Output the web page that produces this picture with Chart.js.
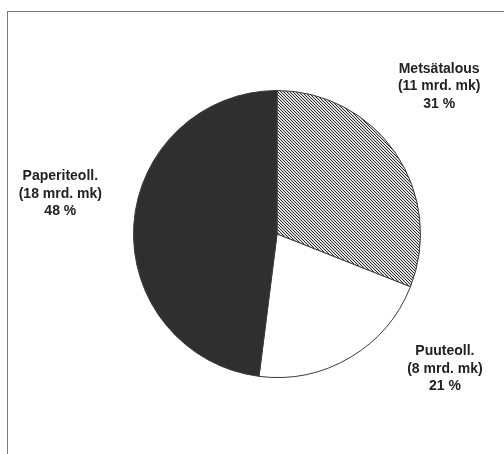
<!DOCTYPE html>
<html>
<head>
<meta charset="utf-8">
<title>Metsäsektori</title>
<script src="https://cdn.jsdelivr.net/npm/chart.js@4/dist/chart.umd.min.js"></script>
<style>
	html, body { margin: 0; padding: 0; background: #fff; }
	#wrap { width: 504px; height: 454px; position: relative; }
</style>
</head>
<body>
<div id="wrap"><canvas id="pie_sektori" width="504" height="454"></canvas></div>
<script>

var categories = ["Metsätalous", "Puuteoll.", "Paperiteoll."];
var amounts = ["11 mrd. mk", "8 mrd. mk", "18 mrd. mk"];
var percents = [31, 21, 48];

// fine diagonal hatch for the first slice
function hatch(){
	var c = document.createElement("canvas");
	c.width = 3;
	c.height = 3;
	var ctx = c.getContext("2d");
	ctx.fillStyle = "#e2e2e2";
	ctx.fillRect(0, 0, 3, 3);
	ctx.fillStyle = "#2a2a2a";
	for (var i = 0; i < 3; i++) {
		ctx.fillRect(i, i, 1, 1);
	}
	return ctx.createPattern(c, "repeat");
}

// frame round the whole drawing, open on the right and bottom
var frame = {
	id: "frame",
	beforeDraw: function(chart){
		var ctx = chart.ctx;
		ctx.save();
		ctx.strokeStyle = "#7a7a7a";
		ctx.lineWidth = 1;
		ctx.strokeRect(7.5, 11.5, chart.width + 20, chart.height + 20);
		ctx.restore();
	}
};

// three-line labels beside each slice
var sliceLabels = {
	id: "sliceLabels",
	afterDraw: function(chart, args, opts){
		var ctx = chart.ctx;
		var arcs = chart.getDatasetMeta(0).data;
		ctx.save();
		ctx.fillStyle = "#222";
		ctx.font = "bold 14px 'Liberation Sans', Arial, sans-serif";
		ctx.textAlign = "center";
		ctx.textBaseline = "middle";
		for (var t = 0; t < arcs.length; t++) {
			var a = arcs[t];
			var x = a.x + opts.offsets[t][0] * a.outerRadius;
			var y = a.y + opts.offsets[t][1] * a.outerRadius;
			var lines = [categories[t], "(" + amounts[t] + ")", percents[t] + " %"];
			for (var l = 0; l < lines.length; l++) {
				ctx.fillText(lines[l], x, y + (l - 1) * 17.5);
			}
		}
		ctx.restore();
	}
};

new Chart(document.getElementById("pie_sektori"), {
	type: 'pie',
	data: {
		labels: categories,
		datasets: [{
			data: percents,
			backgroundColor: [hatch(), "#ffffff", "#2f2f2f"],
			borderColor: "#3a3a3a",
			borderWidth: 1
		}]
	},
	options: {
		responsive: false,
		animation: false,
		events: [],
		layout: {
			padding: { left: 133, right: 83, top: 90, bottom: 76 }
		},
		plugins: {
			legend: { display: false },
			tooltip: { enabled: false },
			sliceLabels: {
				offsets: [[1.13, -1.03], [1.17, 0.94], [-1.51, -0.28]]
			}
		}
	},
	plugins: [frame, sliceLabels]
});

</script>
</body>
</html>
